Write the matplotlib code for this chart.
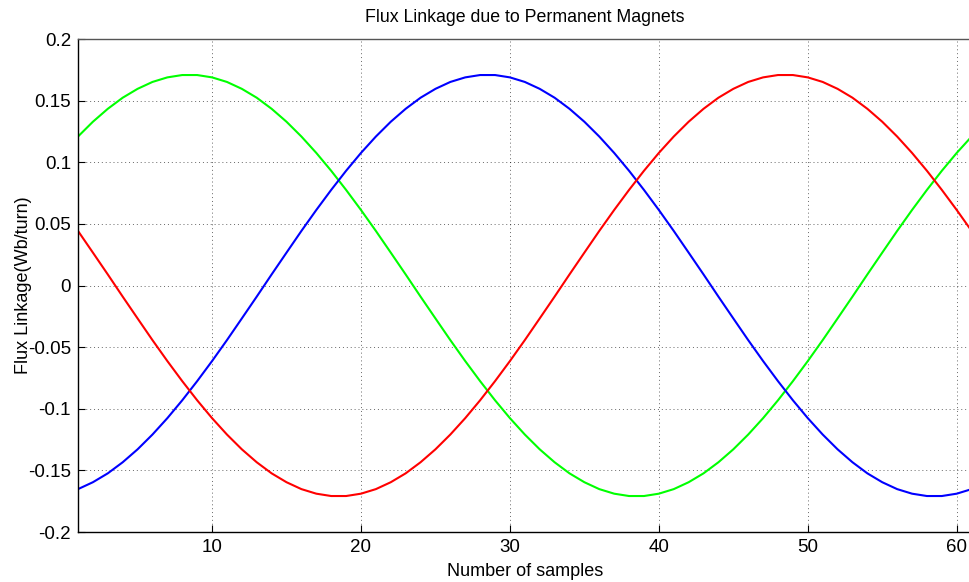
import numpy as np
import matplotlib.pyplot as plt

plt.rcParams['font.family'] = ['Liberation Sans', 'DejaVu Sans']

# sample numbers and flux linkage of the three phases (Wb/turn)
samples = list(range(1, 62))

phase_a = [0.1209, 0.1329, 0.1434, 0.1524, 0.1596, 0.1652, 0.1689, 0.1708, 0.1708, 0.1689,
           0.1652, 0.1596, 0.1524, 0.1434, 0.1329, 0.1209, 0.1076, 0.0931, 0.0776, 0.0613,
           0.0443, 0.0267, 0.0090, -0.0090, -0.0267, -0.0443, -0.0613, -0.0776, -0.0931, -0.1076,
           -0.1209, -0.1329, -0.1434, -0.1524, -0.1596, -0.1652, -0.1689, -0.1708, -0.1708, -0.1689,
           -0.1652, -0.1596, -0.1524, -0.1434, -0.1329, -0.1209, -0.1076, -0.0931, -0.0776, -0.0613,
           -0.0443, -0.0267, -0.0090, 0.0090, 0.0267, 0.0443, 0.0613, 0.0776, 0.0931, 0.1076,
           0.1209]

phase_b = [-0.1652, -0.1596, -0.1524, -0.1434, -0.1329, -0.1209, -0.1076, -0.0931, -0.0776, -0.0613,
           -0.0443, -0.0267, -0.0090, 0.0090, 0.0267, 0.0443, 0.0613, 0.0776, 0.0931, 0.1076,
           0.1209, 0.1329, 0.1434, 0.1524, 0.1596, 0.1652, 0.1689, 0.1708, 0.1708, 0.1689,
           0.1652, 0.1596, 0.1524, 0.1434, 0.1329, 0.1209, 0.1076, 0.0931, 0.0776, 0.0613,
           0.0443, 0.0267, 0.0090, -0.0090, -0.0267, -0.0443, -0.0613, -0.0776, -0.0931, -0.1076,
           -0.1209, -0.1329, -0.1434, -0.1524, -0.1596, -0.1652, -0.1689, -0.1708, -0.1708, -0.1689,
           -0.1652]

phase_c = [0.0443, 0.0267, 0.0090, -0.0090, -0.0267, -0.0443, -0.0613, -0.0776, -0.0931, -0.1076,
           -0.1209, -0.1329, -0.1434, -0.1524, -0.1596, -0.1652, -0.1689, -0.1708, -0.1708, -0.1689,
           -0.1652, -0.1596, -0.1524, -0.1434, -0.1329, -0.1209, -0.1076, -0.0931, -0.0776, -0.0613,
           -0.0443, -0.0267, -0.0090, 0.0090, 0.0267, 0.0443, 0.0613, 0.0776, 0.0931, 0.1076,
           0.1209, 0.1329, 0.1434, 0.1524, 0.1596, 0.1652, 0.1689, 0.1708, 0.1708, 0.1689,
           0.1652, 0.1596, 0.1524, 0.1434, 0.1329, 0.1209, 0.1076, 0.0931, 0.0776, 0.0613,
           0.0443]

fig = plt.figure(figsize=(9.69, 5.82), dpi=100)
# axes run a little past the right edge of the picture, as in the original export
ax = fig.add_axes([0.0805, 0.0859, 0.9222, 0.847])

ax.plot(samples, phase_a, color=(0, 1, 0), linewidth=1.5)
ax.plot(samples, phase_b, color=(0, 0, 1), linewidth=1.5)
ax.plot(samples, phase_c, color=(1, 0, 0), linewidth=1.5)

ax.set_xlim(1, 61)
ax.set_ylim(-0.2, 0.2)
ax.set_xticks([10, 20, 30, 40, 50, 60])
ax.set_yticks(np.round(np.arange(-0.2, 0.201, 0.05), 2))
ax.set_yticklabels(['-0.2', '-0.15', '-0.1', '-0.05', '0', '0.05', '0.1', '0.15', '0.2'])
ax.tick_params(direction='in', length=5, labelsize=13.5, pad=5)
ax.grid(True, linestyle=(0, (1, 3)), color='black', linewidth=0.7, alpha=0.6)

ax.set_title('Flux Linkage due to Permanent Magnets', fontsize=12.8, pad=12)
ax.set_xlabel('Number of samples', fontsize=13, labelpad=5)
ax.set_ylabel('Flux Linkage(Wb/turn)', fontsize=13, labelpad=-3)

for s in ax.spines.values():
    s.set_linewidth(1.0)
ax.spines['top'].set_color('#555555')

fig.savefig('out.png', dpi=100)
